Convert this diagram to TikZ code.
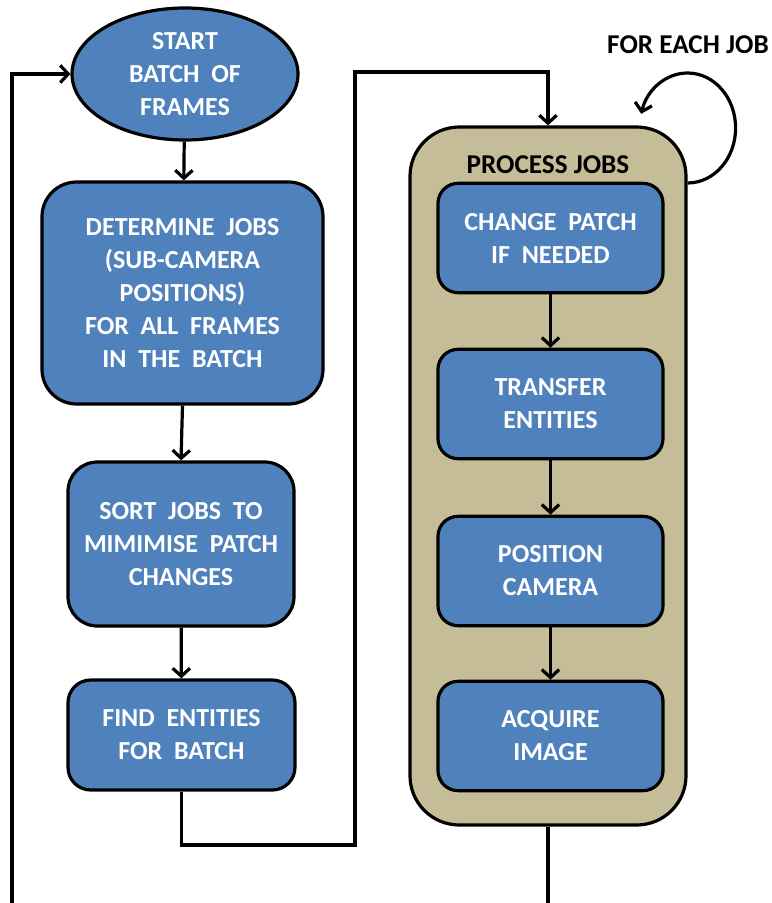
\documentclass[tikz,border=0pt]{standalone}
\usepackage{fontspec}
\setmainfont{Carlito}[WordSpace=2]
\newfontfamily\labelfont{Carlito}
\usetikzlibrary{shapes.geometric,arrows.meta}
\definecolor{boxblue}{HTML}{4F81BD}
\definecolor{jobtan}{HTML}{C4BD97}

\begin{document}
\begin{tikzpicture}[x=0.75pt,y=0.75pt,line width=2.4pt,
        >={Straight Barb[length=6pt,width=13pt]},
        blk/.style={draw=black, fill=boxblue, rounded corners=#1, text=white,
            font=\bfseries\fontsize{19.5}{24.75}\selectfont, align=center, inner sep=0pt},
        blk/.default=15pt,
        jobbox/.style={blk, minimum width=168.75pt, minimum height=82pt},
        lbl/.style={font=\labelfont\bfseries\fontsize{20.4}{24}\selectfont}]
        \useasboundingbox (0,0) rectangle (771,-903);

        % left column
        \node[ellipse, draw=black, fill=boxblue, text=white, align=center, inner sep=0pt,
            font=\bfseries\fontsize{19.5}{24.75}\selectfont,
            minimum width=169.5pt, minimum height=99pt] (start) at (185,-74) {START\\BATCH  OF\\FRAMES};
        \node[blk=26pt, minimum width=210.75pt, minimum height=166.5pt] (determine) at (182.5,-293)
            {DETERMINE  JOBS\\(SUB-CAMERA\\POSITIONS)\\FOR  ALL  FRAMES\\IN  THE  BATCH};
        \node[blk=22pt, minimum width=169.5pt, minimum height=123pt] (sort) at (181,-544)
            {SORT  JOBS  TO\\MIMIMISE  PATCH\\CHANGES};
        \node[blk=17pt, minimum width=170.25pt, minimum height=82.5pt] (find) at (181.5,-735)
            {FIND  ENTITIES\\FOR  BATCH};

        % right column
        \node[draw=black, fill=jobtan, rounded corners=37pt, minimum width=207pt,
            minimum height=523.5pt] (proc) at (548,-476) {};
        \node[lbl] (proclbl) at (548,-165) {PROCESS JOBS};
        \node[jobbox] (change) at (550.5,-238) {CHANGE  PATCH\\IF  NEEDED};
        \node[jobbox] (transfer) at (550.5,-404) {TRANSFER\\ENTITIES};
        \node[jobbox] (position) at (550.5,-571) {POSITION\\CAMERA};
        \node[jobbox] (acquire) at (550.5,-736) {ACQUIRE\\IMAGE};
        \node[lbl] (eachjob) at (688,-45) {FOR EACH JOB};

        \coordinate (bottomleft) at (12,-903);
        \coordinate (bottomright) at (548,-903);
        \coordinate (loopstart) at (proc.east |- 0,-183);

        \draw[->] (start) -- (determine);
        \draw[->] (determine.south) -- (sort.north);
        \draw[->] (sort) -- (find);
        \draw[->] (find.south) -- (181.5,-845) -- (355,-845) -- (355,-72) -- (proc.north |- 0,-72) -- (proc.north);
        \draw[->] (change) -- (transfer);
        \draw[->] (transfer) -- (position);
        \draw[->] (position) -- (acquire);
        \draw (proc.south) -- (bottomright);
        \draw[->] (bottomleft) -- (bottomleft |- start.west) -- (start.west);
        \draw[->] (loopstart) arc[start angle=-90, end angle=165, x radius=48, y radius=55];
    \end{tikzpicture}
\end{document}
